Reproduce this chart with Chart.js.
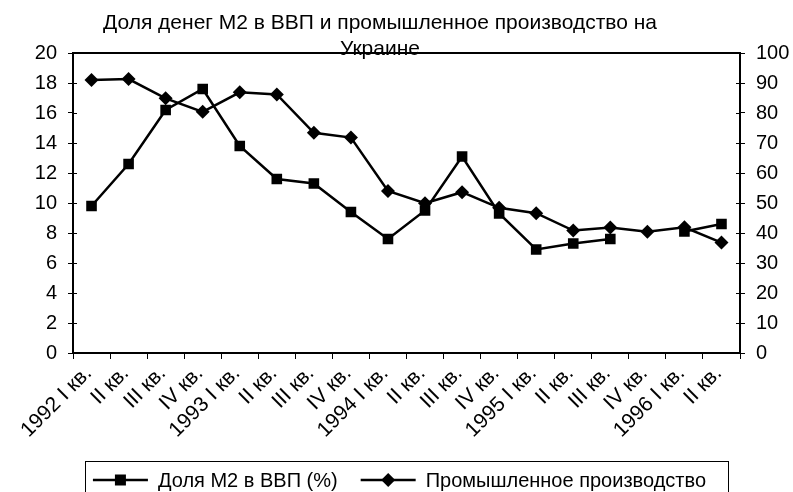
<!DOCTYPE html>
<html>
<head>
<meta charset="utf-8">
<script src="https://cdn.jsdelivr.net/npm/chart.js@4.4.1/dist/chart.umd.min.js"></script>
<style>
  html, body { margin: 0; padding: 0; background: #fff; }
  #wrap { width: 793px; height: 492px; position: relative; }
</style>
</head>
<body>
<div id="wrap"><canvas id="chart"></canvas></div>
<script>
const titleLines = ["Доля денег М2 в ВВП и промышленное производство на", "Украине"]

const quarters = [
  "1992 I кв.", "II кв.", "III кв.", "IV кв.",
  "1993 I кв.", "II кв.", "III кв.", "IV кв.",
  "1994 I кв.", "II кв.", "III кв.", "IV кв.",
  "1995 I кв.", "II кв.", "III кв.", "IV кв.",
  "1996 I кв.", "II кв.",
]

// left axis, % of GDP
const m2Share = [9.8, 12.6, 16.2, 17.6, 13.8, 11.6, 11.3, 9.4, 7.6, 9.5, 13.1, 9.3, 6.9, 7.3, 7.6, null, 8.1, 8.6]
// right axis
const industry = [91, 91.3, 84.9, 80.4, 86.9, 86.2, 73.4, 71.8, 54, 49.9, 53.6, 48.4, 46.6, 40.8, 41.8, 40.4, 41.9, 36.8]

const leftTicks = [0, 20, 2]
const rightTicks = [0, 100, 10]

const FONT = "'Liberation Sans', Arial, sans-serif"

// plot box + ticks crossing the axes
const frame = {
  id: "frame",
  afterDatasetsDraw(chart) {
    const { ctx, chartArea: a } = chart
    ctx.save()
    ctx.strokeStyle = "#000"
    ctx.lineWidth = 2
    ctx.strokeRect(a.left, a.top, a.right - a.left, a.bottom - a.top)
    ctx.lineWidth = 1
    ctx.beginPath()
    chart.scales.y.ticks.forEach((t, i) => {
      const y = Math.round(chart.scales.y.getPixelForTick(i)) + 0.5
      ctx.moveTo(a.left, y); ctx.lineTo(a.left + 4, y)
    })
    chart.scales.y1.ticks.forEach((t, i) => {
      const y = Math.round(chart.scales.y1.getPixelForTick(i)) + 0.5
      ctx.moveTo(a.right - 4, y); ctx.lineTo(a.right, y)
    })
    ctx.stroke()
    ctx.restore()
  },
}

const titleAndLegend = {
  id: "titleAndLegend",
  afterDraw(chart) {
    const { ctx } = chart
    ctx.save()
    ctx.fillStyle = "#000"
    ctx.textAlign = "center"
    ctx.textBaseline = "alphabetic"
    ctx.font = "21px " + FONT
    ctx.fillText(titleLines[0], 380, 29)
    ctx.fillText(titleLines[1], 380, 55)

    // legend box, right edge fixed
    ctx.font = "20px " + FONT
    ctx.textAlign = "left"
    ctx.textBaseline = "middle"
    const sets = chart.data.datasets
    const lineLen = 55, gapIn = 10, gapBetween = 23, padL = 8, padR = 22
    let w = padL
    sets.forEach((d, i) => {
      w += lineLen + gapIn + ctx.measureText(d.label).width + (i < sets.length - 1 ? gapBetween : padR)
    })
    const right = 728, top = 461
    const left = right - w
    ctx.strokeStyle = "#000"
    ctx.lineWidth = 1
    ctx.strokeRect(Math.round(left) + 0.5, top + 0.5, Math.round(w), 40)
    let x = left + padL
    const cy = 480
    sets.forEach((d, i) => {
      ctx.lineWidth = 2.5
      ctx.beginPath(); ctx.moveTo(x, cy); ctx.lineTo(x + lineLen, cy); ctx.stroke()
      const mx = x + lineLen / 2
      ctx.beginPath()
      if (d.pointStyle === "rect") {
        ctx.rect(mx - 5.5, cy - 5.5, 11, 11)
      } else {
        ctx.moveTo(mx, cy - 7); ctx.lineTo(mx + 7, cy); ctx.lineTo(mx, cy + 7); ctx.lineTo(mx - 7, cy)
        ctx.closePath()
      }
      ctx.fill()
      x += lineLen + gapIn
      ctx.fillText(d.label, x, cy + 1)
      x += ctx.measureText(d.label).width + gapBetween
    })
    ctx.restore()
  },
}

new Chart(document.getElementById("chart"), {
  type: "line",
  data: {
    labels: quarters,
    datasets: [
      {
        label: "Доля М2 в ВВП (%)",
        data: m2Share,
        yAxisID: "y",
        borderColor: "#000",
        backgroundColor: "#000",
        borderWidth: 2.5,
        pointStyle: "rect",
        pointRadius: 7.5,
        pointBorderWidth: 0,
        pointHoverRadius: 7.5,
        spanGaps: false,
        tension: 0,
      },
      {
        label: "Промышленное производство",
        data: industry,
        yAxisID: "y1",
        borderColor: "#000",
        backgroundColor: "#000",
        borderWidth: 2.5,
        pointStyle: "rectRot",
        pointRadius: 7,
        pointBorderWidth: 0,
        pointHoverRadius: 7,
        tension: 0,
      },
    ],
  },
  options: {
    responsive: true,
    maintainAspectRatio: false,
    animation: false,
    layout: { padding: { top: 53, bottom: 0, left: 0, right: 0 } },
    plugins: {
      legend: { display: false },
      title: { display: false },
      tooltip: { enabled: false },
    },
    scales: {
      x: {
        type: "category",
        offset: true,
        grid: { offset: true, drawOnChartArea: false, drawTicks: true, tickLength: 6, color: "#000", lineWidth: 1 },
        border: { color: "#000", width: 2 },
        ticks: {
          color: "#000",
          font: { family: FONT, size: 21 },
          autoSkip: false,
          maxRotation: 45,
          minRotation: 45,
          padding: 2,
          labelOffset: -3,
        },
        afterFit: (s) => { s.height = 139 },
      },
      y: {
        position: "left",
        min: leftTicks[0],
        max: leftTicks[1],
        ticks: { stepSize: leftTicks[2], color: "#000", font: { family: FONT, size: 20 }, padding: 11 },
        grid: { drawOnChartArea: false, tickLength: 5, color: "#000" },
        border: { color: "#000", width: 2 },
        afterFit: (s) => { s.width = 73 },
      },
      y1: {
        position: "right",
        min: rightTicks[0],
        max: rightTicks[1],
        ticks: { stepSize: rightTicks[2], color: "#000", font: { family: FONT, size: 20 }, padding: 11 },
        grid: { drawOnChartArea: false, tickLength: 5, color: "#000" },
        border: { color: "#000", width: 2 },
        afterFit: (s) => { s.width = 53 },
      },
    },
  },
  plugins: [frame, titleAndLegend],
})
</script>
</body>
</html>
